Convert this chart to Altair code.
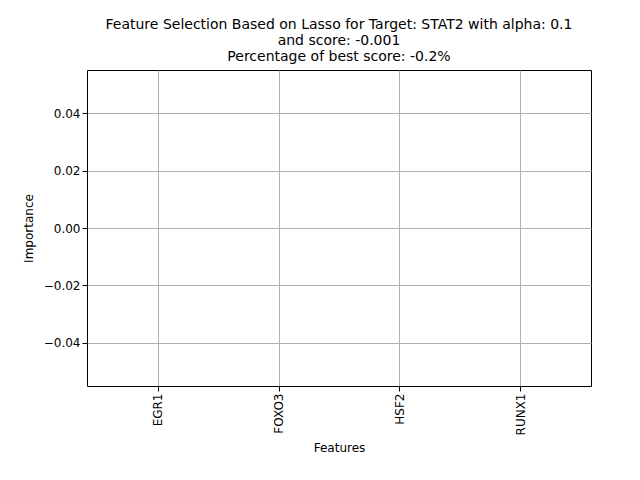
import altair as alt
import pandas as pd

features = ["EGR1", "FOXO3", "HSF2", "RUNX1"]
importance = [0.0, 0.0, 0.0, 0.0]
df = pd.DataFrame({"Features": features, "Importance": importance})

font = "DejaVu Sans"
bars = alt.Chart(df).mark_bar(color="#1f77b4").encode(
    x=alt.X("Features:N", sort=features,
            scale=alt.Scale(type="point", padding=0.583),
            axis=alt.Axis(labelAngle=-90, title="Features", grid=True, gridColor="#b0b0b0",
                          tickColor="black", tickSize=5, domain=False, labelColor="black",
                          titleFontWeight="normal", titleFontSize=12, labelFontSize=12,
                          labelFont=font, titleFont=font, titlePadding=8, titleColor="black")),
    y=alt.Y("Importance:Q", scale=alt.Scale(domain=[-0.055, 0.055], nice=False, zero=False),
            axis=alt.Axis(values=[-0.04, -0.02, 0.0, 0.02, 0.04], format=".2f",
                          labelExpr="replace(datum.label, '-', '\u2212')",
                          title="Importance", grid=True, gridColor="#b0b0b0", tickColor="black",
                          tickSize=5, domain=False, labelColor="black", titleFontWeight="normal",
                          titleFontSize=12, labelFontSize=12, labelFont=font, titleFont=font,
                          titlePadding=8, titleColor="black")),
    y2=alt.datum(0),
).properties(
    width=504, height=316,
    title=alt.TitleParams(
        ["Feature Selection Based on Lasso for Target: STAT2 with alpha: 0.1",
         "and score: -0.001", " Percentage of best score: -0.2%"],
        font=font, fontSize=14, fontWeight="normal", color="black", anchor="middle",
        offset=6, lineHeight=16),
    autosize=alt.AutoSizeParams(type="none"),
    padding={"left": 79, "top": 62, "right": 41, "bottom": 86},
).configure_view(stroke="black", strokeWidth=1)

bars.save("out.html", embed_options={"renderer": "svg", "actions": False})
